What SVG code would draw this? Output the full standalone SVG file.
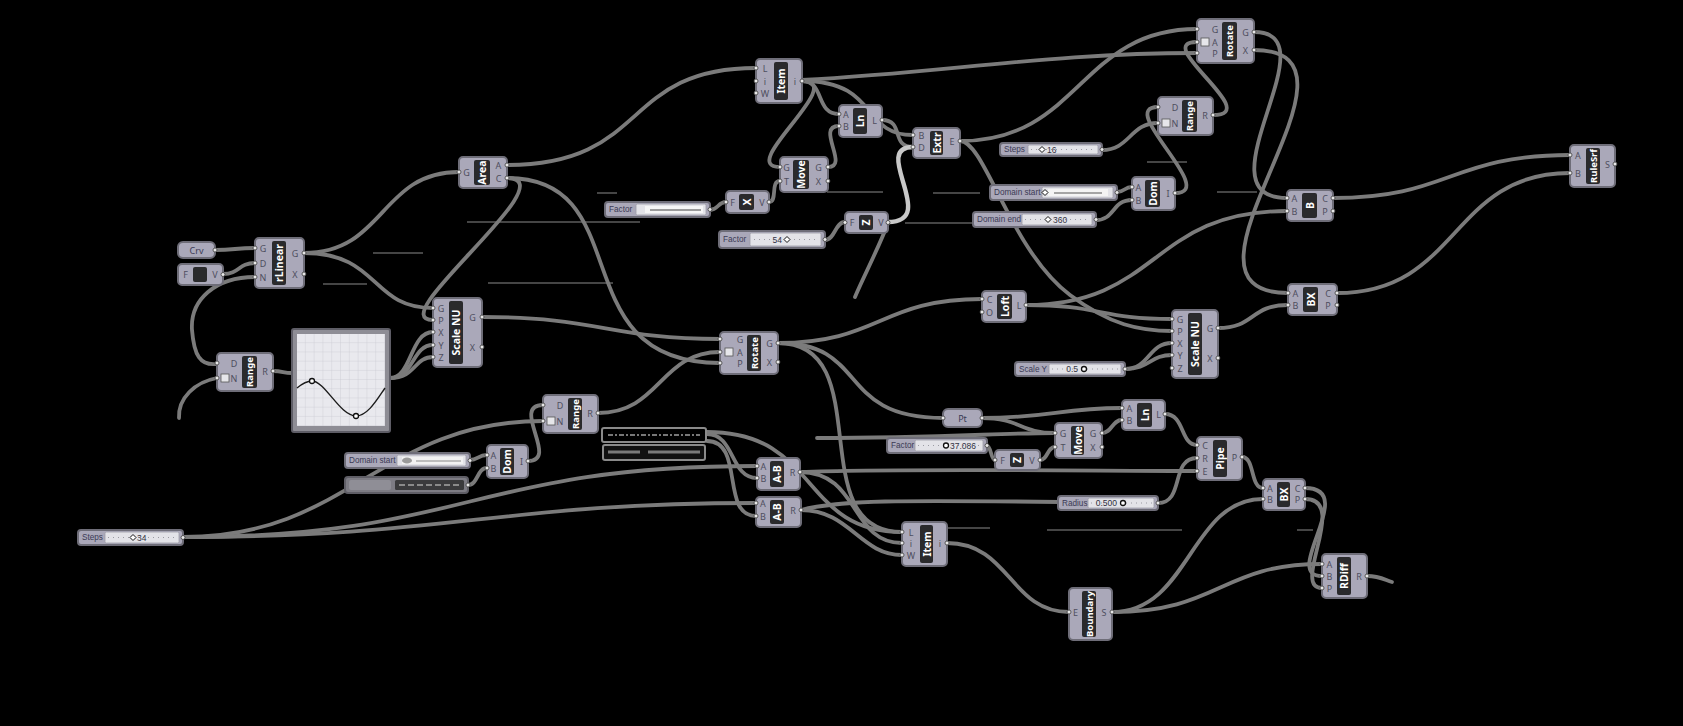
<svg xmlns="http://www.w3.org/2000/svg" width="1683" height="726" viewBox="0 0 1683 726">
<style>
.w{fill:none;stroke:#7b7b7b;stroke-width:3.8;stroke-linecap:round}
.wh{fill:none;stroke:#c8c8c8;stroke-width:4.4;stroke-linecap:round}
.wt{fill:none;stroke:#5c5c5c;stroke-width:1.6}
.b{fill:#aaa8b9;stroke:#6e6d78;stroke-width:2}
.d{fill:#2a2a2c}
.n{fill:#ffffff;font-family:"Noto Sans","DejaVu Sans",sans-serif;font-weight:bold;font-size:10.5px;text-anchor:middle;dominant-baseline:central}
.ns{font-size:9.5px}
.p{fill:#4e4e5e;font-family:"Noto Sans","DejaVu Sans",sans-serif;font-size:9px;text-anchor:middle;dominant-baseline:central}
.t{fill:#3a3a55;font-family:"Noto Sans","DejaVu Sans",sans-serif;font-size:9px;text-anchor:middle;dominant-baseline:central}
.sl{fill:#3a3a55;font-family:"Liberation Sans","Arial",sans-serif;font-size:8.2px;dominant-baseline:central}
.v{fill:#333344;font-family:"Liberation Sans","Arial",sans-serif;font-size:8.5px;dominant-baseline:central}
.tr{fill:#e3e3e8;stroke:#9d9ca6;stroke-width:0.8}
.tk{stroke:#9a9aa2;stroke-width:1;stroke-dasharray:1 4}
.k{fill:#e8e8e8;stroke:#3c3c3c;stroke-width:0.8}
.ic{fill:#e6e6ea;stroke:#555;stroke-width:0.8}
.mk{fill:#ffffff;stroke:#111;stroke-width:1.3}
</style>
<defs>
<pattern id="grid" x="297" y="334" width="8.8" height="9.2" patternUnits="userSpaceOnUse">
<path d="M8.8 0V9.2M0 9.2H8.8" stroke="#c6c6d0" stroke-width="0.7" fill="none"/>
</pattern>
</defs>
<rect width="1683" height="726" fill="#000"/>

<g id="connectors">
<path class="wt" d="M323,284H367M373,253H423M467,222H640M488,283H613M597,193H617M933,193H980M905,223H973M827,192H883M947,528H990M1047,530H1182M1297,530H1313M1217,192H1257M1147,162H1187"/>
<path class="w" d="M215,250 C235,250 235,248 255,248"/>
<path class="w" d="M223,274 C240,274 238,263 255,263"/>
<path class="w" d="M255,277 C215,277 190,300 192,330 C194,355 200,366 217,364"/>
<path class="w" d="M217,378 C195,382 178,398 179,418"/>
<path class="w" d="M273,371 C283,371 283,373 292,373"/>
<path class="w" d="M390,378 C412,378 410,332 433,332"/>
<path class="w" d="M390,378 C414,378 412,345 433,345"/>
<path class="w" d="M390,378 C416,378 414,357 433,357"/>
<path class="w" d="M304,253 C385,253 380,172 459,172"/>
<path class="w" d="M304,253 C380,253 370,308 433,308"/>
<path class="w" d="M507,178 C570,178 380,320 433,320"/>
<path class="w" d="M507,165 C650,165 620,68 756,68"/>
<path class="w" d="M507,178 C640,178 560,363 720,363"/>
<path class="w" d="M482,317 C600,317 610,339 720,339"/>
<path class="w" d="M598,413 C660,413 660,352 720,352"/>
<path class="w" d="M528,461 C560,461 510,405 543,405"/>
<path class="w" d="M183,537 C350,537 380,421 543,421"/>
<path class="w" d="M183,537 C470,537 470,466 757,466"/>
<path class="w" d="M183,537 C450,537 500,503 756,503"/>
<path class="w" d="M470,460 C478,460 478,455 487,455"/>
<path class="w" d="M468,485 C478,485 477,468 487,468"/>
<path class="w" d="M707,434 C735,434 730,478 757,478"/>
<path class="w" d="M707,441 C745,441 720,516 756,516"/>
<path class="w" d="M707,432 C820,432 800,532 902,532"/>
<path class="w" d="M778,343 C880,343 800,532 902,532"/>
<path class="w" d="M800,472 C860,472 850,543 902,543"/>
<path class="w" d="M801,510 C850,510 860,555 902,555"/>
<path class="w" d="M800,472 C900,468 1100,471 1197,471"/>
<path class="w" d="M801,510 C840,500 900,500 1060,502"/>
<path class="w" d="M778,343 C880,343 880,299 982,299"/>
<path class="w" d="M778,343 C870,343 835,418 943,418"/>
<path class="w" d="M802,81 C825,81 815,114 839,114"/>
<path class="w" d="M802,81 C850,81 735,167 780,167"/>
<path class="w" d="M802,81 C880,81 860,135 913,135"/>
<path class="w" d="M802,80 C950,72 1050,53 1197,53"/>
<path class="w" d="M828,167 C850,167 815,126 839,126"/>
<path class="w" d="M769,202 C778,202 770,181 780,181"/>
<path class="w" d="M710,210 C718,210 718,202 726,202"/>
<path class="w" d="M825,240 C835,240 835,222 845,222"/>
<path class="w" d="M882,120 C905,120 890,147 913,147"/>
<path class="wh" d="M888,222 C940,222 870,147 913,147"/>
<path class="w" d="M888,223 C880,245 862,280 855,297"/>
<path class="w" d="M960,141 C1080,141 1080,29 1197,29"/>
<path class="w" d="M960,141 C985,141 1010,250 1070,295 C1110,325 1140,331 1172,331"/>
<path class="w" d="M1213,115 C1265,115 1150,42 1197,42"/>
<path class="w" d="M1102,150 C1130,150 1130,123 1158,123"/>
<path class="w" d="M1175,193 C1220,193 1115,107 1158,107"/>
<path class="w" d="M1117,192 C1125,192 1124,187 1132,187"/>
<path class="w" d="M1096,220 C1115,220 1112,200 1132,200"/>
<path class="w" d="M1254,32 C1335,32 1195,198 1287,198"/>
<path class="w" d="M1254,50 C1390,50 1150,293 1288,293"/>
<path class="w" d="M1026,305 C1160,305 1150,211 1287,211"/>
<path class="w" d="M1026,305 C1100,305 1100,319 1172,319"/>
<path class="w" d="M1218,328 C1255,328 1250,305 1288,305"/>
<path class="w" d="M1125,369 C1150,369 1148,343 1172,343"/>
<path class="w" d="M1125,369 C1150,369 1150,355 1172,355"/>
<path class="w" d="M1333,198 C1450,198 1450,155 1570,155"/>
<path class="w" d="M1337,293 C1460,293 1450,173 1570,173"/>
<path class="w" d="M982,418 C1050,418 1060,408 1122,408"/>
<path class="w" d="M982,418 C1020,418 1020,433 1055,433"/>
<path class="w" d="M817,438 C940,438 1000,433 1055,433"/>
<path class="w" d="M1102,433 C1112,433 1112,420 1122,420"/>
<path class="w" d="M1040,460 C1048,460 1047,447 1055,447"/>
<path class="w" d="M987,446 C991,446 991,460 995,460"/>
<path class="w" d="M1165,414 C1185,414 1180,445 1197,445"/>
<path class="w" d="M1158,503 C1185,503 1170,458 1197,458"/>
<path class="w" d="M1242,457 C1255,457 1250,488 1263,488"/>
<path class="w" d="M947,543 C1010,543 1010,612 1069,612"/>
<path class="w" d="M1112,612 C1190,612 1190,499 1263,499"/>
<path class="w" d="M1112,612 C1220,612 1220,564 1322,564"/>
<path class="w" d="M1305,488 C1360,488 1280,576 1322,576"/>
<path class="w" d="M1305,499 C1350,499 1290,588 1322,588"/>
<path class="w" d="M1367,576 C1380,576 1385,580 1392,582"/>
</g>

<g id="n-crv"><rect class="b" x="178" y="242" width="37" height="16" rx="5"/><text class="t" x="196.5" y="250">Crv</text><circle class="k" cx="215" cy="250" r="2"/></g>
<g id="n-pt"><rect class="b" x="943" y="409" width="39" height="18" rx="5"/><text class="t" x="962.5" y="418">Pt</text><circle class="k" cx="943" cy="418" r="2"/><circle class="k" cx="982" cy="418" r="2"/></g>

<g id="n-unitz1" transform="translate(178,264)"><rect class="b" width="45" height="21" rx="4"/><rect class="d" x="15" y="3" width="14" height="15" rx="2" fill="#3a3a3e"/><text class="p" x="7.5" y="10.5">F</text><text class="p" x="37" y="10.5">V</text><circle class="k" cx="45" cy="10.5" r="2"/></g>
<g id="n-x" transform="translate(726,191)"><rect class="b" width="43" height="22" rx="4"/><rect class="d" x="13" y="3" width="15" height="16" rx="2"/><text class="n" transform="translate(20.5,11) rotate(-90)">X</text><text class="p" x="6.5" y="11">F</text><text class="p" x="36" y="11">V</text><circle class="k" cx="0" cy="11" r="2"/><circle class="k" cx="43" cy="11" r="2"/></g>
<g id="n-z1" transform="translate(845,212)"><rect class="b" width="43" height="21" rx="4"/><rect class="d" x="14" y="3" width="14" height="15" rx="2"/><text class="n" transform="translate(21,10.5) rotate(-90)">Z</text><text class="p" x="7" y="10.5">F</text><text class="p" x="36" y="10.5">V</text><circle class="k" cx="0" cy="10.5" r="2"/><circle class="k" cx="43" cy="10.5" r="2"/></g>
<g id="n-z2" transform="translate(995,450)"><rect class="b" width="45" height="20" rx="4"/><rect class="d" x="15" y="3" width="14" height="14" rx="2"/><text class="n" transform="translate(22,10) rotate(-90)">Z</text><text class="p" x="7.5" y="10">F</text><text class="p" x="37" y="10">V</text><circle class="k" cx="0" cy="10" r="2"/><circle class="k" cx="45" cy="10" r="2"/></g>

<g id="n-rlinear" transform="translate(255,238)"><rect class="b" width="49" height="50" rx="4"/><rect class="d" x="17" y="3" width="14" height="44" rx="2"/><text class="n" transform="translate(24,25) rotate(-90)">rLinear</text>
<text class="p" x="8" y="10">G</text><text class="p" x="8" y="25">D</text><text class="p" x="8" y="39">N</text><text class="p" x="40" y="15">G</text><text class="p" x="40" y="36">X</text>
<circle class="k" cx="0" cy="10" r="2"/><circle class="k" cx="0" cy="25" r="2"/><circle class="k" cx="0" cy="39" r="2"/><circle class="k" cx="49" cy="15" r="2"/><circle class="k" cx="49" cy="36" r="2"/></g>

<g id="n-area" transform="translate(459,157)"><rect class="b" width="48" height="31" rx="4"/><rect class="d" x="15" y="3" width="16" height="25" rx="2"/><text class="n" transform="translate(23,15.5) rotate(-90)">Area</text>
<text class="p" x="7.5" y="15">G</text><text class="p" x="39.5" y="8">A</text><text class="p" x="39.5" y="21">C</text>
<circle class="k" cx="0" cy="15" r="2"/><circle class="k" cx="48" cy="8" r="2"/><circle class="k" cx="48" cy="21" r="2"/></g>

<g id="n-scalenu1" transform="translate(433,298)"><rect class="b" width="49" height="69" rx="4"/><rect class="d" x="16" y="3" width="14" height="63" rx="2"/><text class="n" transform="translate(23,34.5) rotate(-90)">Scale NU</text>
<text class="p" x="8" y="10">G</text><text class="p" x="8" y="22">P</text><text class="p" x="8" y="34">X</text><text class="p" x="8" y="47">Y</text><text class="p" x="8" y="59">Z</text><text class="p" x="39.5" y="19">G</text><text class="p" x="39.5" y="49">X</text>
<circle class="k" cx="0" cy="10" r="2"/><circle class="k" cx="0" cy="22" r="2"/><circle class="k" cx="0" cy="34" r="2"/><circle class="k" cx="0" cy="47" r="2"/><circle class="k" cx="0" cy="59" r="2"/><circle class="k" cx="49" cy="19" r="2"/><circle class="k" cx="49" cy="49" r="2"/></g>

<g id="n-range1" transform="translate(217,353)"><rect class="b" width="56" height="38" rx="4"/><rect class="d" x="25" y="3" width="15" height="32" rx="2"/><text class="n ns" transform="translate(32.5,19) rotate(-90)">Range</text>
<rect class="ic" x="4" y="21" width="8" height="8"/><text class="p" x="17" y="10">D</text><text class="p" x="17" y="25">N</text><text class="p" x="48" y="18">R</text>
<circle class="k" cx="0" cy="10" r="2"/><circle class="k" cx="0" cy="25" r="2"/><circle class="k" cx="56" cy="18" r="2"/></g>

<g id="n-graph"><rect x="292" y="329" width="98" height="103" fill="#8e8d95" stroke="#5e5d66" stroke-width="2" rx="2"/><rect x="297" y="334" width="88" height="92" fill="#e9e9ee"/><rect x="297" y="334" width="88" height="92" fill="url(#grid)"/>
<path d="M297,388 C303,383 307,381 312,381 C325,381 340,416 356,416 C368,416 378,398 385,388" fill="none" stroke="#1c1c1c" stroke-width="1.4"/>
<circle class="mk" cx="312" cy="381" r="2.5"/><circle class="mk" cx="356" cy="416" r="2.5"/></g>

<g id="n-item1" transform="translate(756,59)"><rect class="b" width="46" height="44" rx="4"/><rect class="d" x="18" y="3" width="14" height="38" rx="2"/><text class="n" transform="translate(25,22) rotate(-90)">Item</text>
<text class="p" x="9" y="9">L</text><text class="p" x="9" y="22">i</text><text class="p" x="9" y="34">W</text><text class="p" x="39" y="22">i</text>
<circle class="k" cx="0" cy="9" r="2"/><circle class="k" cx="0" cy="22" r="2"/><circle class="k" cx="0" cy="34" r="2"/><circle class="k" cx="46" cy="22" r="2"/></g>

<g id="n-ln1" transform="translate(839,105)"><rect class="b" width="43" height="32" rx="4"/><rect class="d" x="14" y="3" width="14" height="26" rx="2"/><text class="n" transform="translate(21,16) rotate(-90)">Ln</text>
<text class="p" x="7" y="9">A</text><text class="p" x="7" y="21">B</text><text class="p" x="35.5" y="15">L</text>
<circle class="k" cx="0" cy="9" r="2"/><circle class="k" cx="0" cy="21" r="2"/><circle class="k" cx="43" cy="15" r="2"/></g>

<g id="n-extr" transform="translate(913,128)"><rect class="b" width="47" height="30" rx="4"/><rect class="d" x="17" y="3" width="13" height="24" rx="2"/><text class="n" transform="translate(23.5,15) rotate(-90)">Extr</text>
<text class="p" x="8.5" y="7.5">B</text><text class="p" x="8.5" y="19">D</text><text class="p" x="39" y="13">E</text>
<circle class="k" cx="0" cy="7" r="2"/><circle class="k" cx="0" cy="19" r="2"/><circle class="k" cx="47" cy="13" r="2"/></g>

<g id="n-move1" transform="translate(780,157)"><rect class="b" width="48" height="35" rx="4"/><rect class="d" x="13" y="3" width="16" height="29" rx="2"/><text class="n" transform="translate(21,17.5) rotate(-90)">Move</text>
<text class="p" x="6.5" y="10">G</text><text class="p" x="6.5" y="24">T</text><text class="p" x="38.5" y="10">G</text><text class="p" x="38.5" y="24">X</text>
<circle class="k" cx="0" cy="10" r="2"/><circle class="k" cx="0" cy="24" r="2"/><circle class="k" cx="48" cy="10" r="2"/><circle class="k" cx="48" cy="24" r="2"/></g>

<g id="n-rotate1" transform="translate(1197,19)"><rect class="b" width="57" height="44" rx="4"/><rect class="d" x="25" y="3" width="15" height="38" rx="2"/><text class="n ns" transform="translate(32.5,22) rotate(-90)">Rotate</text>
<rect class="ic" x="4" y="19" width="8" height="8"/><text class="p" x="18" y="10">G</text><text class="p" x="18" y="23">A</text><text class="p" x="18" y="34">P</text><text class="p" x="48.5" y="13">G</text><text class="p" x="48.5" y="31">X</text>
<circle class="k" cx="0" cy="10" r="2"/><circle class="k" cx="0" cy="23" r="2"/><circle class="k" cx="0" cy="34" r="2"/><circle class="k" cx="57" cy="13" r="2"/><circle class="k" cx="57" cy="31" r="2"/></g>

<g id="n-range2" transform="translate(1158,97)"><rect class="b" width="55" height="38" rx="4"/><rect class="d" x="24" y="3" width="15" height="32" rx="2"/><text class="n ns" transform="translate(31.5,19) rotate(-90)">Range</text>
<rect class="ic" x="4" y="22" width="8" height="8"/><text class="p" x="17" y="10">D</text><text class="p" x="17" y="26">N</text><text class="p" x="47" y="18">R</text>
<circle class="k" cx="0" cy="10" r="2"/><circle class="k" cx="0" cy="26" r="2"/><circle class="k" cx="55" cy="18" r="2"/></g>

<g id="n-dom1" transform="translate(1132,177)"><rect class="b" width="43" height="33" rx="4"/><rect class="d" x="13" y="3" width="15" height="27" rx="2"/><text class="n" transform="translate(20.5,16.5) rotate(-90)">Dom</text>
<text class="p" x="6.5" y="10">A</text><text class="p" x="6.5" y="23">B</text><text class="p" x="36" y="16">I</text>
<circle class="k" cx="0" cy="10" r="2"/><circle class="k" cx="0" cy="23" r="2"/><circle class="k" cx="43" cy="16" r="2"/></g>

<g id="n-b1" transform="translate(1287,190)"><rect class="b" width="46" height="31" rx="4"/><rect class="d" x="15" y="3" width="15" height="25" rx="2"/><text class="n" transform="translate(22.5,15.5) rotate(-90)">B</text>
<text class="p" x="7.5" y="8">A</text><text class="p" x="7.5" y="21">B</text><text class="p" x="38" y="8">C</text><text class="p" x="38" y="21">P</text>
<circle class="k" cx="0" cy="8" r="2"/><circle class="k" cx="0" cy="21" r="2"/><circle class="k" cx="46" cy="8" r="2"/><circle class="k" cx="46" cy="21" r="2"/></g>

<g id="n-rulesrf" transform="translate(1570,145)"><rect class="b" width="45" height="42" rx="4"/><rect class="d" x="16" y="3" width="14" height="36" rx="2"/><text class="n ns" transform="translate(23,21) rotate(-90)">RuleSrf</text>
<text class="p" x="8" y="10">A</text><text class="p" x="8" y="28">B</text><text class="p" x="37.5" y="19">S</text>
<circle class="k" cx="0" cy="10" r="2"/><circle class="k" cx="0" cy="28" r="2"/><circle class="k" cx="45" cy="19" r="2"/></g>

<g id="n-bx1" transform="translate(1288,284)"><rect class="b" width="49" height="31" rx="4"/><rect class="d" x="15" y="3" width="15" height="25" rx="2"/><text class="n" transform="translate(22.5,15.5) rotate(-90)">BX</text>
<text class="p" x="7.5" y="9">A</text><text class="p" x="7.5" y="21">B</text><text class="p" x="40" y="9">C</text><text class="p" x="40" y="21">P</text>
<circle class="k" cx="0" cy="9" r="2"/><circle class="k" cx="0" cy="21" r="2"/><circle class="k" cx="49" cy="9" r="2"/><circle class="k" cx="49" cy="21" r="2"/></g>

<g id="n-loft" transform="translate(982,291)"><rect class="b" width="44" height="31" rx="4"/><rect class="d" x="15" y="3" width="15" height="25" rx="2"/><text class="n" transform="translate(22.5,15.5) rotate(-90)">Loft</text>
<text class="p" x="7.5" y="8">C</text><text class="p" x="7.5" y="21">O</text><text class="p" x="37" y="14">L</text>
<circle class="k" cx="0" cy="8" r="2"/><circle class="k" cx="0" cy="21" r="2"/><circle class="k" cx="44" cy="14" r="2"/></g>

<g id="n-scalenu2" transform="translate(1172,310)"><rect class="b" width="46" height="68" rx="4"/><rect class="d" x="16" y="3" width="14" height="62" rx="2"/><text class="n" transform="translate(23,34) rotate(-90)">Scale NU</text>
<text class="p" x="8" y="9">G</text><text class="p" x="8" y="21">P</text><text class="p" x="8" y="33">X</text><text class="p" x="8" y="45">Y</text><text class="p" x="8" y="58">Z</text><text class="p" x="38" y="18">G</text><text class="p" x="38" y="48">X</text>
<circle class="k" cx="0" cy="9" r="2"/><circle class="k" cx="0" cy="21" r="2"/><circle class="k" cx="0" cy="33" r="2"/><circle class="k" cx="0" cy="45" r="2"/><circle class="k" cx="0" cy="58" r="2"/><circle class="k" cx="46" cy="18" r="2"/><circle class="k" cx="46" cy="48" r="2"/></g>

<g id="n-ln2" transform="translate(1122,400)"><rect class="b" width="43" height="30" rx="4"/><rect class="d" x="15" y="3" width="15" height="24" rx="2"/><text class="n" transform="translate(22.5,15) rotate(-90)">Ln</text>
<text class="p" x="7.5" y="8">A</text><text class="p" x="7.5" y="20">B</text><text class="p" x="36.5" y="14">L</text>
<circle class="k" cx="0" cy="8" r="2"/><circle class="k" cx="0" cy="20" r="2"/><circle class="k" cx="43" cy="14" r="2"/></g>

<g id="n-move2" transform="translate(1055,423)"><rect class="b" width="47" height="35" rx="4"/><rect class="d" x="16" y="3" width="13" height="29" rx="2"/><text class="n" transform="translate(22.5,17.5) rotate(-90)">Move</text>
<text class="p" x="8" y="10">G</text><text class="p" x="8" y="24">T</text><text class="p" x="38" y="10">G</text><text class="p" x="38" y="24">X</text>
<circle class="k" cx="0" cy="10" r="2"/><circle class="k" cx="0" cy="24" r="2"/><circle class="k" cx="47" cy="10" r="2"/><circle class="k" cx="47" cy="24" r="2"/></g>

<g id="n-pipe" transform="translate(1197,437)"><rect class="b" width="45" height="43" rx="4"/><rect class="d" x="16" y="3" width="14" height="37" rx="2"/><text class="n" transform="translate(23,21.5) rotate(-90)">Pipe</text>
<text class="p" x="8" y="8">C</text><text class="p" x="8" y="21">R</text><text class="p" x="8" y="34">E</text><text class="p" x="37.5" y="20">P</text>
<circle class="k" cx="0" cy="8" r="2"/><circle class="k" cx="0" cy="21" r="2"/><circle class="k" cx="0" cy="34" r="2"/><circle class="k" cx="45" cy="20" r="2"/></g>

<g id="n-bx2" transform="translate(1263,479)"><rect class="b" width="42" height="31" rx="4"/><rect class="d" x="14" y="3" width="13" height="25" rx="2"/><text class="n" transform="translate(20.5,15.5) rotate(-90)">BX</text>
<text class="p" x="7" y="9">A</text><text class="p" x="7" y="20">B</text><text class="p" x="34.5" y="9">C</text><text class="p" x="34.5" y="20">P</text>
<circle class="k" cx="0" cy="9" r="2"/><circle class="k" cx="0" cy="20" r="2"/><circle class="k" cx="42" cy="9" r="2"/><circle class="k" cx="42" cy="20" r="2"/></g>

<g id="n-item2" transform="translate(902,522)"><rect class="b" width="45" height="44" rx="4"/><rect class="d" x="18" y="3" width="13" height="38" rx="2"/><text class="n" transform="translate(24.5,22) rotate(-90)">Item</text>
<text class="p" x="9" y="10">L</text><text class="p" x="9" y="21">i</text><text class="p" x="9" y="33">W</text><text class="p" x="38" y="21">i</text>
<circle class="k" cx="0" cy="10" r="2"/><circle class="k" cx="0" cy="21" r="2"/><circle class="k" cx="0" cy="33" r="2"/><circle class="k" cx="45" cy="21" r="2"/></g>

<g id="n-boundary" transform="translate(1069,588)"><rect class="b" width="43" height="52" rx="4"/><rect class="d" x="13" y="3" width="14" height="46" rx="2"/><text class="n ns" transform="translate(20,26) rotate(-90)">Boundary</text>
<text class="p" x="6.5" y="24">E</text><text class="p" x="35" y="24">S</text>
<circle class="k" cx="0" cy="24" r="2"/><circle class="k" cx="43" cy="24" r="2"/></g>

<g id="n-rdiff" transform="translate(1322,554)"><rect class="b" width="45" height="44" rx="4"/><rect class="d" x="15" y="3" width="14" height="38" rx="2"/><text class="n" transform="translate(22,22) rotate(-90)">RDiff</text>
<text class="p" x="7.5" y="10">A</text><text class="p" x="7.5" y="22">B</text><text class="p" x="7.5" y="34">P</text><text class="p" x="37" y="22">R</text>
<circle class="k" cx="0" cy="10" r="2"/><circle class="k" cx="0" cy="22" r="2"/><circle class="k" cx="0" cy="34" r="2"/><circle class="k" cx="45" cy="22" r="2"/></g>

<g id="n-rotate2" transform="translate(720,332)"><rect class="b" width="58" height="42" rx="4"/><rect class="d" x="27" y="3" width="14" height="36" rx="2"/><text class="n ns" transform="translate(34,21) rotate(-90)">Rotate</text>
<rect class="ic" x="5" y="16" width="8" height="8"/><text class="p" x="20" y="7">G</text><text class="p" x="20" y="20">A</text><text class="p" x="20" y="31">P</text><text class="p" x="49.5" y="11">G</text><text class="p" x="49.5" y="30">X</text>
<circle class="k" cx="0" cy="7" r="2"/><circle class="k" cx="0" cy="20" r="2"/><circle class="k" cx="0" cy="31" r="2"/><circle class="k" cx="58" cy="11" r="2"/><circle class="k" cx="58" cy="30" r="2"/></g>

<g id="n-ab1" transform="translate(757,458)"><rect class="b" width="43" height="32" rx="4"/><rect class="d" x="13" y="3" width="14" height="26" rx="2"/><text class="n" transform="translate(20,16) rotate(-90)">A-B</text>
<text class="p" x="6.5" y="8">A</text><text class="p" x="6.5" y="20">B</text><text class="p" x="35.5" y="14">R</text>
<circle class="k" cx="0" cy="8" r="2"/><circle class="k" cx="0" cy="20" r="2"/><circle class="k" cx="43" cy="14" r="2"/></g>

<g id="n-ab2" transform="translate(756,497)"><rect class="b" width="45" height="30" rx="4"/><rect class="d" x="14" y="3" width="14" height="24" rx="2"/><text class="n" transform="translate(21,15) rotate(-90)">A-B</text>
<text class="p" x="7" y="6.5">A</text><text class="p" x="7" y="19">B</text><text class="p" x="37" y="13">R</text>
<circle class="k" cx="0" cy="6" r="2"/><circle class="k" cx="0" cy="19" r="2"/><circle class="k" cx="45" cy="13" r="2"/></g>

<g id="n-range3" transform="translate(543,395)"><rect class="b" width="55" height="38" rx="4"/><rect class="d" x="25" y="3" width="14" height="32" rx="2"/><text class="n ns" transform="translate(32,19) rotate(-90)">Range</text>
<rect class="ic" x="4" y="22" width="8" height="8"/><text class="p" x="17" y="10">D</text><text class="p" x="17" y="26">N</text><text class="p" x="47" y="18">R</text>
<circle class="k" cx="0" cy="10" r="2"/><circle class="k" cx="0" cy="26" r="2"/><circle class="k" cx="55" cy="18" r="2"/></g>

<g id="n-dom2" transform="translate(487,445)"><rect class="b" width="41" height="33" rx="4"/><rect class="d" x="13" y="3" width="14" height="27" rx="2"/><text class="n" transform="translate(20,16.5) rotate(-90)">Dom</text>
<text class="p" x="6.5" y="10">A</text><text class="p" x="6.5" y="23">B</text><text class="p" x="34.5" y="16">I</text>
<circle class="k" cx="0" cy="10" r="2"/><circle class="k" cx="0" cy="23" r="2"/><circle class="k" cx="41" cy="16" r="2"/></g>

<g id="s-factor1" transform="translate(605,202)"><rect class="b" width="105" height="15" rx="3"/><text class="sl" x="4" y="7.5">Factor</text><rect class="tr" x="31" y="2" width="70" height="11" rx="1.5"/><rect x="40" y="4" width="58" height="7" fill="#f6f6f6"/><path d="M45,8 H96" stroke="#9b9b9b" stroke-width="2"/><circle class="k" cx="105" cy="7.5" r="2"/></g>
<g id="s-factor2" transform="translate(719,231)"><rect class="b" width="106" height="17" rx="3"/><text class="sl" x="4" y="8.5">Factor</text><rect class="tr" x="31" y="2" width="71" height="13" rx="1.5"/><line class="tk" x1="35" y1="8.5" x2="99" y2="8.5"/><text class="v" x="63" y="8.5" text-anchor="end">54</text><path d="M68,5.5 L71,8.5 L68,11.5 L65,8.5Z" class="mk" style="stroke-width:1"/><circle class="k" cx="106" cy="8.5" r="2"/></g>
<g id="s-steps1" transform="translate(1000,143)"><rect class="b" width="102" height="13" rx="3"/><text class="sl" x="4" y="6.5">Steps</text><rect class="tr" x="28" y="2" width="70" height="9" rx="1.5"/><line class="tk" x1="31" y1="6.5" x2="96" y2="6.5"/><path d="M42,3.5 L45,6.5 L42,9.5 L39,6.5Z" class="mk" style="stroke-width:1"/><text class="v" x="47" y="6.5">16</text><circle class="k" cx="102" cy="6.5" r="2"/></g>
<g id="s-dstart1" transform="translate(990,185)"><rect class="b" width="127" height="15" rx="3"/><text class="sl" x="4" y="7.5">Domain start</text><rect class="tr" x="52" y="2" width="71" height="11" rx="1.5"/><rect x="58" y="4" width="60" height="7" fill="#f4f4f4"/><path d="M64,8 H112" stroke="#a5a5a5" stroke-width="2"/><path d="M55,4.5 L58,7.5 L55,10.5 L52,7.5Z" class="mk" style="stroke-width:1"/><circle class="k" cx="127" cy="7.5" r="2"/></g>
<g id="s-dend1" transform="translate(973,212)"><rect class="b" width="123" height="15" rx="3"/><text class="sl" x="4" y="7.5">Domain end</text><rect class="tr" x="49" y="2" width="70" height="11" rx="1.5"/><line class="tk" x1="52" y1="7.5" x2="116" y2="7.5"/><path d="M75,4.5 L78,7.5 L75,10.5 L72,7.5Z" class="mk" style="stroke-width:1"/><text class="v" x="80" y="7.5">360</text><circle class="k" cx="123" cy="7.5" r="2"/></g>
<g id="s-scaley" transform="translate(1015,362)"><rect class="b" width="110" height="14" rx="3"/><text class="sl" x="4" y="7">Scale Y</text><rect class="tr" x="34" y="2" width="72" height="10" rx="1.5"/><line class="tk" x1="37" y1="7" x2="104" y2="7"/><text class="v" x="63" y="7" text-anchor="end">0.5</text><circle class="mk" cx="69" cy="7" r="2.5"/><circle class="k" cx="110" cy="7" r="2"/></g>
<g id="s-factor3" transform="translate(887,438)"><rect class="b" width="100" height="15" rx="3"/><text class="sl" x="4" y="7.5">Factor</text><rect class="tr" x="28" y="2" width="68" height="11" rx="1.5"/><line class="tk" x1="31" y1="7.5" x2="94" y2="7.5"/><circle class="mk" cx="59" cy="7.5" r="2.5"/><text class="v" x="63" y="7.5">37.086</text><circle class="k" cx="100" cy="7.5" r="2"/></g>
<g id="s-radius" transform="translate(1058,496)"><rect class="b" width="100" height="14" rx="3"/><text class="sl" x="4" y="7">Radius</text><rect class="tr" x="30" y="2" width="66" height="10" rx="1.5"/><line class="tk" x1="33" y1="7" x2="94" y2="7"/><text class="v" x="59" y="7" text-anchor="end">0.500</text><circle class="mk" cx="65" cy="7" r="2.5"/><circle class="k" cx="100" cy="7" r="2"/></g>
<g id="s-dstart2" transform="translate(345,453)"><rect class="b" width="125" height="15" rx="3"/><text class="sl" x="4" y="7.5">Domain start</text><rect class="tr" x="52" y="2" width="69" height="11" rx="1.5"/><rect x="57" y="4" width="61" height="7" fill="#f2f2f2"/><ellipse cx="62" cy="7.5" rx="5" ry="3" fill="#9a9a9a"/><path d="M71,8 H116" stroke="#bdbdbd" stroke-width="2"/><circle class="k" cx="125" cy="7.5" r="2"/></g>
<g id="s-ghost" transform="translate(345,477)"><rect width="123" height="16" rx="3" fill="#7d7c84" stroke="#5f5e66" stroke-width="2"/><rect x="4" y="3" width="42" height="10" rx="2" fill="#8f8e96"/><rect x="50" y="3" width="69" height="10" rx="1.5" fill="#3a3a3c"/><path d="M54,8 H116" stroke="#8a8a8a" stroke-width="2" stroke-dasharray="6 3"/><circle class="k" cx="123" cy="8" r="2"/></g>
<g id="s-steps2" transform="translate(78,530)"><rect class="b" width="105" height="15" rx="3"/><text class="sl" x="4" y="7.5">Steps</text><rect class="tr" x="27" y="2" width="74" height="11" rx="1.5"/><line class="tk" x1="30" y1="7.5" x2="99" y2="7.5"/><path d="M55,4.5 L58,7.5 L55,10.5 L52,7.5Z" class="mk" style="stroke-width:1"/><text class="v" x="59" y="7.5">34</text><circle class="k" cx="105" cy="7.5" r="2"/></g>

<g id="n-panels"><rect x="602" y="428" width="104" height="14" rx="2" fill="none" stroke="#8a8a8a" stroke-width="2"/><path d="M608,435 H700" stroke="#777" stroke-width="2" stroke-dasharray="5 2 2 2"/><rect x="603" y="445" width="102" height="15" rx="2" fill="#111" stroke="#8a8a8a" stroke-width="2"/><path d="M608,452 H640 M648,452 H700" stroke="#7a7a7a" stroke-width="3"/></g>
</svg>
